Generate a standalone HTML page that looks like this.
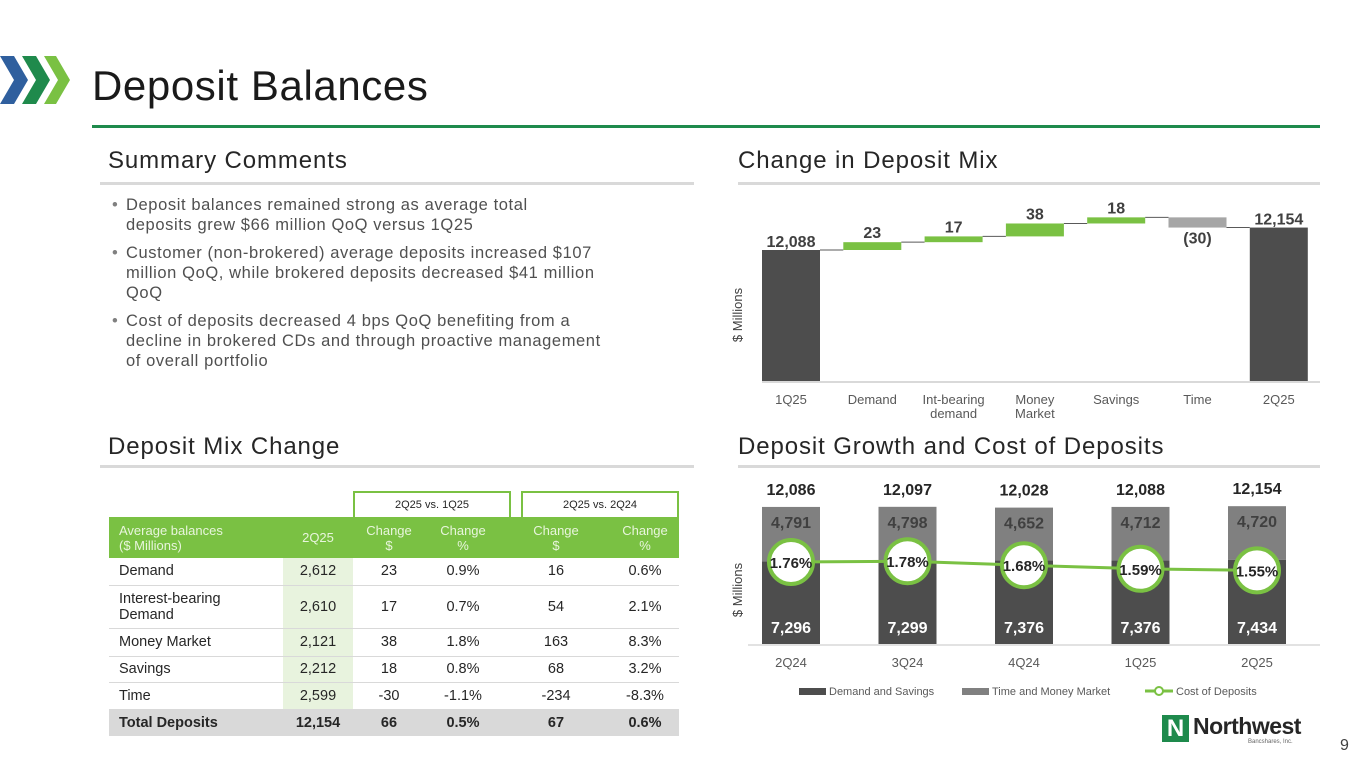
<!DOCTYPE html>
<html><head><meta charset="utf-8">
<style>
*{margin:0;padding:0;box-sizing:border-box}
body{width:1365px;height:768px;background:#fff;font-family:"Liberation Sans",sans-serif;position:relative;overflow:hidden;color:#404040}
.abs{position:absolute}
.h2{font-size:24px;letter-spacing:0.9px;color:#262626;white-space:nowrap}
.rule{height:3px;background:#d9d9d9}
ul{list-style:none}
li{position:relative;padding-left:14px;font-size:16.5px;letter-spacing:0.6px;line-height:20px;color:#505050;margin-bottom:8px;white-space:nowrap}
li:before{content:"•";position:absolute;left:0;top:0;color:#808080}
table{border-collapse:collapse;font-size:14.5px;color:#262626}
td{text-align:center;border-bottom:1px solid #d9d9d9;padding:0}
td.l{text-align:left;padding-left:10px}
</style></head><body>
<svg class="abs" style="left:0;top:52px" width="75" height="60" viewBox="0 0 75 60">
<polygon points="0,4 14,4 28,28 14,52 0,52 14,28" fill="#2f5f9e"/>
<polygon points="22,4 36,4 50,28 36,52 22,52 36,28" fill="#1f8a4c"/>
<polygon points="44,4 56,4 70,28 56,52 44,52 58,28" fill="#7ac143"/>
</svg>
<div class="abs" style="left:92px;top:62px;font-size:42px;letter-spacing:0.6px;color:#1a1a1a">Deposit Balances</div>
<div class="abs" style="left:92px;top:125px;width:1228px;height:3px;background:#1e8a4c"></div>

<div class="abs h2" style="left:108px;top:147px">Summary Comments</div>
<div class="abs rule" style="left:100px;top:182px;width:594px"></div>
<ul class="abs" style="left:112px;top:195px;width:580px">
<li>Deposit balances remained strong as average total<br>deposits grew $66 million QoQ versus 1Q25</li>
<li>Customer (non-brokered) average deposits increased $107<br>million QoQ, while brokered deposits decreased $41 million<br>QoQ</li>
<li>Cost of deposits decreased 4 bps QoQ benefiting from a<br>decline in brokered CDs and through proactive management<br>of overall portfolio</li>
</ul>

<div class="abs h2" style="left:108px;top:433px">Deposit Mix Change</div>
<div class="abs rule" style="left:100px;top:465px;width:594px"></div>

<div class="abs h2" style="left:738px;top:147px">Change in Deposit Mix</div>
<div class="abs rule" style="left:738px;top:182px;width:582px"></div>
<div class="abs h2" style="left:738px;top:433px">Deposit Growth and Cost of Deposits</div>
<div class="abs rule" style="left:738px;top:465px;width:582px"></div>

<!-- Table -->
<div class="abs" style="left:353px;top:491px;width:158px;height:27px;border:2px solid #7ac143;border-bottom:none;font-size:11px;text-align:center;line-height:24px;color:#262626">2Q25 vs. 1Q25</div>
<div class="abs" style="left:521px;top:491px;width:158px;height:27px;border:2px solid #7ac143;border-bottom:none;font-size:11px;text-align:center;line-height:24px;color:#262626">2Q25 vs. 2Q24</div>
<table class="abs" style="left:109px;top:517px;width:570px">
<colgroup><col style="width:174px"><col style="width:70px"><col style="width:72px"><col style="width:76px"><col style="width:110px"><col style="width:68px"></colgroup>
<tr style="background:#7ac143;color:#e8f5dc;height:41px;font-size:13px;line-height:15px"><td class="l" style="border:none">Average balances<br>($ Millions)</td><td style="border:none">2Q25</td><td style="border:none">Change<br>$</td><td style="border:none">Change<br>%</td><td style="border:none">Change<br>$</td><td style="border:none">Change<br>%</td></tr>
<tr style="height:27px"><td class="l">Demand</td><td style="background:#e8f3de">2,612</td><td>23</td><td>0.9%</td><td>16</td><td>0.6%</td></tr>
<tr style="height:43px;line-height:16px"><td class="l">Interest-bearing<br>Demand</td><td style="background:#e8f3de">2,610</td><td>17</td><td>0.7%</td><td>54</td><td>2.1%</td></tr>
<tr style="height:28px"><td class="l">Money Market</td><td style="background:#e8f3de">2,121</td><td>38</td><td>1.8%</td><td>163</td><td>8.3%</td></tr>
<tr style="height:26px"><td class="l">Savings</td><td style="background:#e8f3de">2,212</td><td>18</td><td>0.8%</td><td>68</td><td>3.2%</td></tr>
<tr style="height:27px"><td class="l">Time</td><td style="background:#e8f3de">2,599</td><td>-30</td><td>-1.1%</td><td>-234</td><td>-8.3%</td></tr>
<tr style="height:27px;background:#d9d9d9;font-weight:bold"><td class="l" style="border:none">Total Deposits</td><td style="border:none">12,154</td><td style="border:none">66</td><td style="border:none">0.5%</td><td style="border:none">67</td><td style="border:none">0.6%</td></tr>
</table>

<svg class="abs" id="charts" style="left:0;top:0" width="1365" height="768"></svg>

<!-- Northwest logo -->
<div class="abs" style="left:1162px;top:713px;width:140px;height:35px">
<div style="position:absolute;left:0;top:2px;width:27px;height:27px;background:#1e8a4c;color:#fff;font-weight:bold;font-size:24px;line-height:27px;text-align:center">N</div>
<div style="position:absolute;left:31px;top:0;font-size:23px;font-weight:bold;color:#262626;letter-spacing:-0.5px">Northwest</div>
<div style="position:absolute;left:86px;top:26px;font-size:6px;color:#666">Bancshares, Inc.</div>
</div>
<div class="abs" style="left:1340px;top:737px;font-size:16px;color:#404040">9</div>

<script>
// Waterfall data
const wfCategories = ["1Q25","Demand","Int-bearing\ndemand","Money\nMarket","Savings","Time","2Q25"];
const wfStart = 12088;
const wfChanges = [23,17,38,18,-30];
const wfEnd = 12154;
// Stacked chart data
const qCategories = ["2Q24","3Q24","4Q24","1Q25","2Q25"];
const demandSavings = [7296,7299,7376,7376,7434];
const timeMoney = [4791,4798,4652,4712,4720];
const totals = [12086,12097,12028,12088,12154];
const costOfDeposits = [1.76,1.78,1.68,1.59,1.55];

const NS="http://www.w3.org/2000/svg";
const svg=document.getElementById('charts');
function mk(tag,attrs,parent){const e=document.createElementNS(NS,tag);for(const k in attrs)e.setAttribute(k,attrs[k]);(parent||svg).appendChild(e);return e;}
function txt(s,x,y,o,parent){const t=mk('text',Object.assign({x:x,y:y,'text-anchor':'middle','font-family':'Liberation Sans, sans-serif'},o),parent);t.textContent=s;return t;}
const fmt=v=>v.toLocaleString('en-US');

// ---- Waterfall ----
const wfG=mk('g',{});


const wfBase=381, wfK=0.34, wfMin=wfStart-131/wfK;
const wy=v=>wfBase-(v-wfMin)*wfK;
const wx=i=>791+i*81.3;
const bw=58;
let a=mk('line',{x1:762,x2:1320,y1:wfBase+1,y2:wfBase+1,stroke:'#d9d9d9','stroke-width':2},wfG);


let yl=txt('$ Millions',0,0,{'font-size':13,fill:'#404040',transform:'translate(742,315) rotate(-90)'},wfG);


let r=mk('rect',{x:wx(0)-bw/2,y:wy(wfStart),width:bw,height:wfBase-wy(wfStart),fill:'#4d4d4d'},wfG);


let lb=txt(fmt(wfStart),wx(0),wy(wfStart)-3,{'font-size':16,'font-weight':'bold',fill:'#404040'},wfG);


let cum=wfStart;
wfChanges.forEach((c,i)=>{
  const prev=cum; cum+=c;
  const x=wx(i+1);
  const conn=mk('line',{x1:wx(i)+bw/2,x2:x-bw/2,y1:wy(prev),y2:wy(prev),stroke:'#595959','stroke-width':1},wfG);
  
  
  const top=wy(Math.max(prev,cum)), bot=wy(Math.min(prev,cum));
  const b=mk('rect',{x:x-bw/2,y:top,width:bw,height:bot-top,fill:c>=0?'#7ac143':'#a6a6a6'},wfG);
  
  
  const l=txt(c>=0?String(c):'('+Math.abs(c)+')',x,c>=0?top-4:bot+16,{'font-size':16,'font-weight':'bold',fill:'#404040'},wfG);
  
  
});
const last=wfChanges.length+1;
let conn2=mk('line',{x1:wx(last-1)+bw/2,x2:wx(last)-bw/2,y1:wy(cum),y2:wy(cum),stroke:'#595959','stroke-width':1},wfG);


let r2=mk('rect',{x:wx(last)-bw/2,y:wy(wfEnd),width:bw,height:wfBase-wy(wfEnd),fill:'#4d4d4d'},wfG);


let lb2=txt(fmt(wfEnd),wx(last),wy(wfEnd)-3,{'font-size':16,'font-weight':'bold',fill:'#404040'},wfG);


wfCategories.forEach((c,i)=>{
  c.split('\n').forEach((ln,j)=>{
    const t=txt(ln,wx(i),404+j*14,{'font-size':13,fill:'#595959'},wfG);
    
    
  });
});

// ---- Stacked + line ----
const sG=mk('g',{});


const sBase=644, sK=0.01134;
const sy=v=>sBase-v*sK;
const sx=i=>791+i*116.5;
const cy=v=>562+(1.76-v)*40;
const sbw=58;
let ax=mk('line',{x1:748,x2:1320,y1:sBase+1,y2:sBase+1,stroke:'#d9d9d9','stroke-width':1.5},sG);


let syl=txt('$ Millions',0,0,{'font-size':13,fill:'#404040',transform:'translate(742,590) rotate(-90)'},sG);


qCategories.forEach((q,i)=>{
  const x=sx(i);
  const b1=mk('rect',{x:x-sbw/2,y:sy(demandSavings[i]),width:sbw,height:sBase-sy(demandSavings[i]),fill:'#4d4d4d'},sG);
  
  
  const t2=demandSavings[i]+timeMoney[i];
  const b2=mk('rect',{x:x-sbw/2,y:sy(t2),width:sbw,height:sy(demandSavings[i])-sy(t2),fill:'#808080'},sG);
  
  
  const l1=txt(fmt(demandSavings[i]),x,sBase-11,{'font-size':16,'font-weight':'bold',fill:'#fff'},sG);
  
  
  const l2=txt(fmt(timeMoney[i]),x,sy(t2)+21,{'font-size':16,'font-weight':'bold',fill:'#404040'},sG);
  
  
  const l3=txt(fmt(totals[i]),x,sy(totals[i])-12,{'font-size':16,'font-weight':'bold',fill:'#262626'},sG);
  
  
  const xl=txt(q,x,667,{'font-size':13,fill:'#595959'},sG);
  
  
});
const pts=costOfDeposits.map((v,i)=>sx(i)+','+cy(v)).join(' ');
let pl=mk('polyline',{points:pts,fill:'none',stroke:'#7ac143','stroke-width':3},sG);


costOfDeposits.forEach((v,i)=>{
  const c=mk('circle',{cx:sx(i),cy:cy(v),r:22,fill:'#fff',stroke:'#7ac143','stroke-width':4},sG);
  
  
  const t=txt(v.toFixed(2)+'%',sx(i),cy(v)+6,{'font-size':15,'font-weight':'bold',fill:'#262626'},sG);
  
  
});
// legend
const lg=mk('g',{},sG);


let e1=mk('rect',{x:799,y:688,width:27,height:7,fill:'#4d4d4d'},lg);


let t1=txt('Demand and Savings',829,695,{'font-size':11,fill:'#595959','text-anchor':'start'},lg);


let e2=mk('rect',{x:962,y:688,width:27,height:7,fill:'#808080'},lg);


let t2e=txt('Time and Money Market',992,695,{'font-size':11,fill:'#595959','text-anchor':'start'},lg);


let e3=mk('line',{x1:1145,x2:1173,y1:691,y2:691,stroke:'#7ac143','stroke-width':3},lg);


let e3c=mk('circle',{cx:1159,cy:691,r:4,fill:'#fff',stroke:'#7ac143','stroke-width':2},lg);


let t3=txt('Cost of Deposits',1176,695,{'font-size':11,fill:'#595959','text-anchor':'start'},lg);


</script>
</body></html>
